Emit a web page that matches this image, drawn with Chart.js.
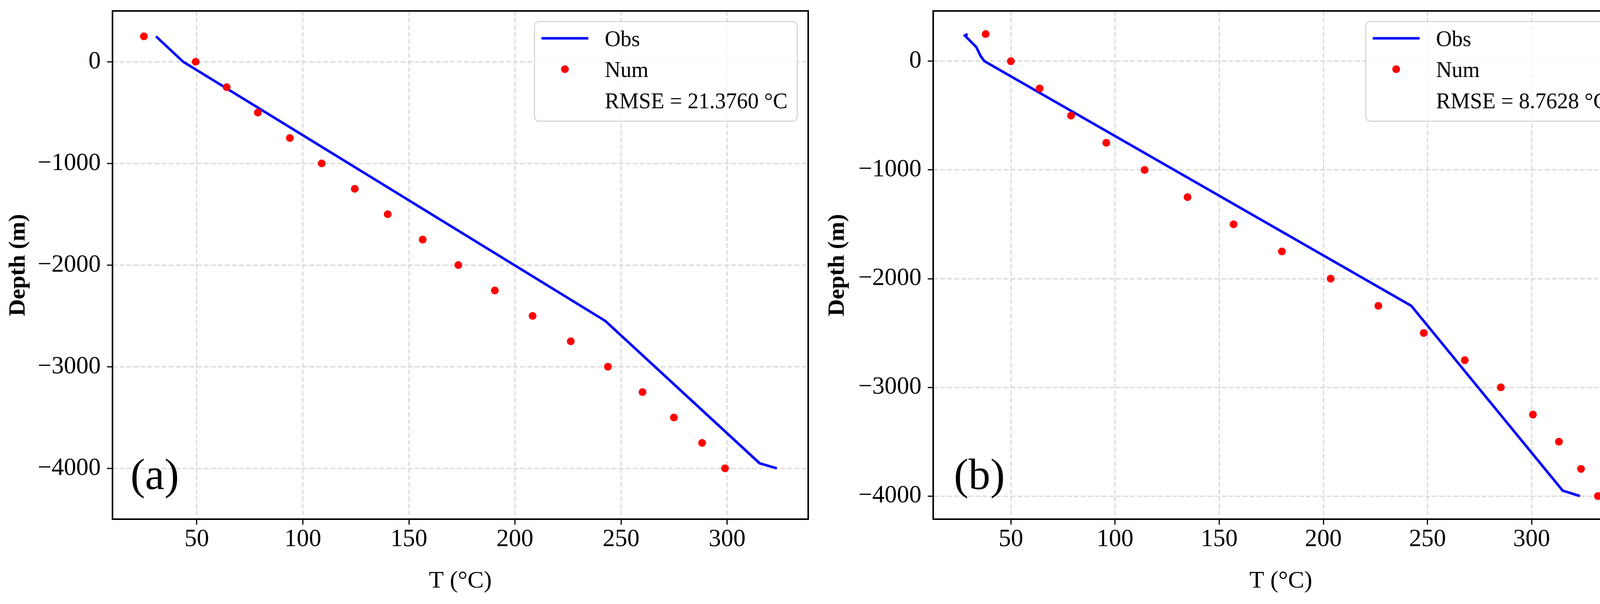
<!DOCTYPE html>
<html>
<head>
<meta charset="utf-8">
<script src="https://cdn.jsdelivr.net/npm/chart.js@4.4.1/dist/chart.umd.min.js"></script>
<style>
  html, body { margin: 0; padding: 0; background: #fff; overflow: hidden; }
  #wrap { position: relative; width: 4194px; height: 1545px; }
  canvas { position: absolute; top: 0; }
  #chartA { left: 0; }
  #chartB { left: 2097px; }
</style>
</head>
<body>
<div id="wrap">
  <canvas id="chartA" width="2097" height="1545"></canvas>
  <canvas id="chartB" width="2097" height="1545"></canvas>
</div>
<script>
// depth of the simulated (Num) points, shared by both panels
const depthNum = [250, 0, -250, -500, -750, -1000, -1250, -1500, -1750, -2000,
                  -2250, -2500, -2750, -3000, -3250, -3500, -3750, -4000];

// panel (a)
const numTempA = [25.1, 49.5, 64.1, 78.8, 93.9, 108.9, 124.5, 140.0, 156.5, 173.3,
                  190.5, 208.3, 226.3, 243.8, 260.1, 274.9, 288.2, 299.0];
const obsTempA = [30.8, 43.6, 242.6, 315.3, 323.4];
const obsDepthA = [250, 0, -2550, -3950, -4000];

// panel (b)
const numTempB = [37.9, 50.0, 63.8, 78.9, 95.8, 114.2, 134.8, 156.9, 180.1, 203.5,
                  226.4, 248.2, 267.9, 285.2, 300.6, 313.1, 323.7, 331.8];
const obsTempB = [29.2, 27.9, 33.4, 35.4, 37.3, 242.2, 314.9, 323.2];
const obsDepthB = [250, 236, 130, 50, 0, -2250, -3950, -4000];

// axes
const xTicks = [50, 100, 150, 200, 250, 300];
const yTicks = [0, -1000, -2000, -3000, -4000];
const xRangeA = [10.3, 338.2];
const yRangeA = [-4500, 500];
const xRangeB = [12.7, 346.5];
const yRangeB = [-4212.5, 462.5];

const rmseA = 'RMSE = 21.3760 °C';
const rmseB = 'RMSE = 8.7628 °C';

const serif = '"Liberation Serif", "Times New Roman", serif';
Chart.defaults.font.family = serif;
Chart.defaults.color = '#000';

function fmt(v) {
    return v < 0 ? '\u2212' + Math.abs(v) : String(v);
}

// box around the plot, the legend and the (a)/(b) tag
const framePlugin = {
    id: 'frame',
    afterDatasetsDraw(chart, args, opts) {
        const ctx = chart.ctx;
        const a = chart.chartArea;
        ctx.save();

        // legend
        ctx.font = '56px ' + serif;
        const labels = chart.data.datasets.map(d => d.label).concat([opts.rmse]);
        let tw = 0;
        labels.forEach(t => { tw = Math.max(tw, ctx.measureText(t).width); });
        const w = 180 + tw + 25;
        const h = 255;
        const lx = a.right - 28 - w;
        const ly = a.top + 27;
        ctx.beginPath();
        ctx.roundRect(lx, ly, w, h, 12);
        ctx.fillStyle = 'rgba(255,255,255,0.8)';
        ctx.fill();
        ctx.strokeStyle = '#d0d0d0';
        ctx.lineWidth = 2.5;
        ctx.stroke();

        const obs = chart.data.datasets.find(d => d.label === 'Obs');
        const num = chart.data.datasets.find(d => d.label === 'Num');
        ctx.beginPath();
        ctx.moveTo(lx + 18, ly + 43);
        ctx.lineTo(lx + 138, ly + 43);
        ctx.strokeStyle = obs.borderColor;
        ctx.lineWidth = obs.borderWidth;
        ctx.stroke();
        ctx.beginPath();
        ctx.arc(lx + 78, ly + 122, num.pointRadius, 0, Math.PI * 2);
        ctx.fillStyle = num.backgroundColor;
        ctx.fill();

        ctx.fillStyle = '#000';
        ctx.textBaseline = 'alphabetic';
        ctx.textAlign = 'left';
        ctx.fillText('Obs', lx + 180, ly + 63);
        ctx.fillText('Num', lx + 180, ly + 142);
        ctx.fillText(opts.rmse, lx + 180, ly + 222);

        // panel tag
        ctx.font = '112px ' + serif;
        ctx.fillText(opts.tag, a.left + opts.tagDx, a.bottom - 77);

        // frame
        ctx.strokeStyle = '#000';
        ctx.lineWidth = 4;
        ctx.strokeRect(a.left, a.top, a.right - a.left, a.bottom - a.top);
        ctx.restore();
    }
};

function makeChart(id, numTemp, obsTemp, obsDepth, xr, yr, axisW, padRight, tag, tagDx, rmse) {
    const ctx = document.getElementById(id).getContext('2d');
    return new Chart(ctx, {
        type: 'scatter',
        data: {
            datasets: [{
                label: 'Obs',
                data: obsTemp.map((t, i) => ({x: t, y: obsDepth[i]})),
                showLine: true,
                borderColor: '#0000ff',
                borderWidth: 6.5,
                pointRadius: 0,
                fill: false,
                order: 1
            }, {
                label: 'Num',
                data: numTemp.map((t, i) => ({x: t, y: depthNum[i]})),
                showLine: false,
                backgroundColor: '#ff0000',
                borderWidth: 0,
                pointRadius: 10,
                order: 0
            }]
        },
        options: {
            responsive: false,
            animation: false,
            devicePixelRatio: 1,
            layout: { padding: { top: 28, right: padRight, left: 0, bottom: 0 } },
            plugins: {
                legend: { display: false },
                tooltip: { enabled: false },
                frame: { tag: tag, tagDx: tagDx, rmse: rmse }
            },
            scales: {
                x: {
                    type: 'linear',
                    min: xr[0],
                    max: xr[1],
                    afterBuildTicks: s => { s.ticks = xTicks.map(v => ({value: v})); },
                    afterFit: s => {
                        s.height = 1545 - 1328;
                        s.paddingLeft = 0;
                        s.paddingRight = 0;
                    },
                    grid: {
                        color: '#d0d0d0',
                        lineWidth: 2.5,
                        tickColor: '#000',
                        tickWidth: 3,
                        tickLength: 14
                    },
                    border: { display: false, dash: [12, 6] },
                    ticks: {
                        font: { size: 63 },
                        padding: 1,
                        maxRotation: 0,
                        callback: v => fmt(v)
                    },
                    title: {
                        display: true,
                        text: 'T (°C)',
                        font: { size: 62 },
                        padding: { top: 0, bottom: 21 }
                    }
                },
                y: {
                    type: 'linear',
                    min: yr[0],
                    max: yr[1],
                    afterBuildTicks: s => { s.ticks = yTicks.map(v => ({value: v})); },
                    afterFit: s => {
                        s.width = axisW;
                        s.paddingTop = 0;
                        s.paddingBottom = 0;
                    },
                    grid: {
                        color: '#d0d0d0',
                        lineWidth: 2.5,
                        tickColor: '#000',
                        tickWidth: 3,
                        tickLength: 14
                    },
                    border: { display: false, dash: [12, 6] },
                    ticks: {
                        font: { size: 63 },
                        padding: 16,
                        callback: v => fmt(v)
                    },
                    title: {
                        display: true,
                        text: 'Depth (m)',
                        font: { size: 60, weight: 'bold' },
                        padding: { top: 11, bottom: 0 }
                    }
                }
            }
        },
        plugins: [framePlugin]
    });
}

makeChart('chartA', numTempA, obsTempA, obsDepthA, xRangeA, yRangeA, 288, 28, '(a)', 46, rmseA);
makeChart('chartB', numTempB, obsTempB, obsDepthB, xRangeB, yRangeB, 292, 25, '(b)', 53, rmseB);
</script>
</body>
</html>
